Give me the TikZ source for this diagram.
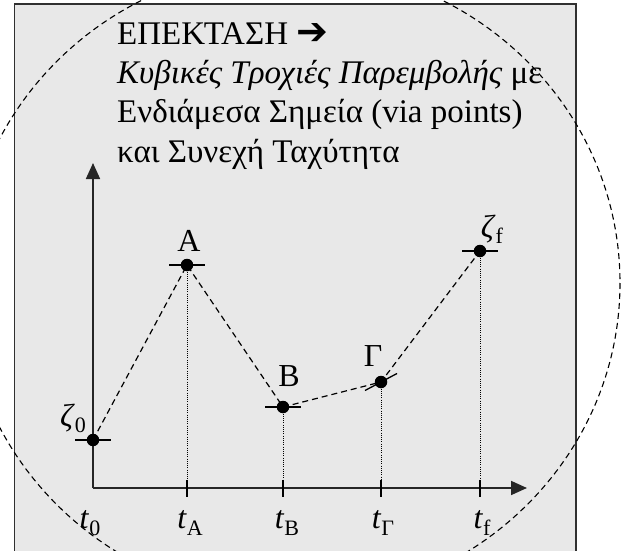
\documentclass[tikz,border=0pt]{standalone}
\usepackage{fontspec}
\setmainfont{Liberation Serif}
\newfontfamily\dejavu{DejaVu Sans}
\usetikzlibrary{arrows.meta}
\definecolor{bgfill}{HTML}{E8E8E8}
\definecolor{framecol}{HTML}{303030}
\newcommand{\tlab}[1]{\textit{t}\raisebox{-7pt}{\fontsize{22}{22}\selectfont #1}}
\newcommand{\zlab}[1]{\textit{ζ}\raisebox{-6pt}{\fontsize{22}{22}\selectfont #1}}
\begin{document}
\begin{tikzpicture}[x=1pt,y=-1pt,
  frame/.style={draw=framecol,line width=1.5pt,fill=bgfill},
  bigcirc/.style={draw=black,line width=1.1pt,dash pattern=on 6pt off 4pt},
  conn/.style={draw=black,line width=1.2pt,dash pattern=on 6pt off 4pt},
  dotline/.style={draw=black,line width=0.8pt,dash pattern=on 1pt off 1.2pt},
  axis/.style={draw=black!85,line width=1.7pt,-{Triangle[length=16pt,width=14pt]}},
  pt/.style={circle,fill=black,inner sep=0pt,minimum size=12.5pt},
  tick/.style={draw=black,line width=1.3pt},
  title/.style={anchor=base west,inner sep=0pt,font=\fontsize{33}{33}\selectfont},
  lab/.style={anchor=base,inner sep=0pt,font=\fontsize{32}{32}\selectfont}]
\useasboundingbox (0,0) rectangle (630,551);
\clip (0,0) rectangle (630,551);
\path[frame] (14.5,4) rectangle (576,600);
% title text
\node[title] (l1) at (117,45) {ΕΠΕΚΤΑΣΗ {\dejavu\bfseries\fontsize{38}{38}\selectfont ➔}};
\node[title] (l2) at (117,84) {\textit{Κυβικές Τροχιές Παρεμβολής} με};
\node[title] (l3) at (117,123) {Ενδιάμεσα Σημεία (via points)};
\node[title] (l4) at (117,162) {και Συνεχή Ταχύτητα};
% axes
\coordinate (O) at (93,488);
\coordinate (ytip) at (93,163);
\coordinate (xtip) at (527,488);
\draw[axis] (O) -- (ytip);
\draw[axis] (O) -- (xtip);
% points
\node[pt] (Z0) at (93,440) {};
\node[pt] (A) at (187,265) {};
\node[pt] (B) at (283,407) {};
\node[pt] (G) at (381,382) {};
\node[pt] (Zf) at (480,251) {};
% dotted drops
\foreach \p in {A,B,G,Zf} {
  \draw[dotline] (\p.center) -- (\p |- O);
  \draw[tick] (\p |- O) ++(0,-8) -- ++(0,17);
}
% point ticks
\foreach \p in {Z0,A,B,Zf} {
  \draw[tick] (\p.center) ++(-18,0) -- ++(36,0);
}
\draw[tick] (G.center) ++(-16,8.5) -- ++(32,-17);
% dashed connectors
\draw[conn] (Z0.center) -- (A.center) -- (B.center) -- (G.center) -- (Zf.center);
% labels
\node[lab] (lA) at (189,251) {A};
\node[lab] (lB) at (289,386) {B};
\node[lab] (lG) at (373,366) {Γ};
\node[lab] (lZf) at (492,237) {\zlab{f}};
\node[lab] (lZ0) at (73,426) {\zlab{0}};
\node[lab] (t0) at (90,528) {\tlab{0}};
\node[lab] (tA) at (190,528) {\tlab{A}};
\node[lab] (tB) at (287,528) {\tlab{B}};
\node[lab] (tG) at (383,528) {\tlab{Γ}};
\node[lab] (tf) at (482,528) {\tlab{f}};
% big dashed ellipse
\draw[bigcirc] (292,283) ellipse [x radius=328, y radius=318];
\end{tikzpicture}
\end{document}
